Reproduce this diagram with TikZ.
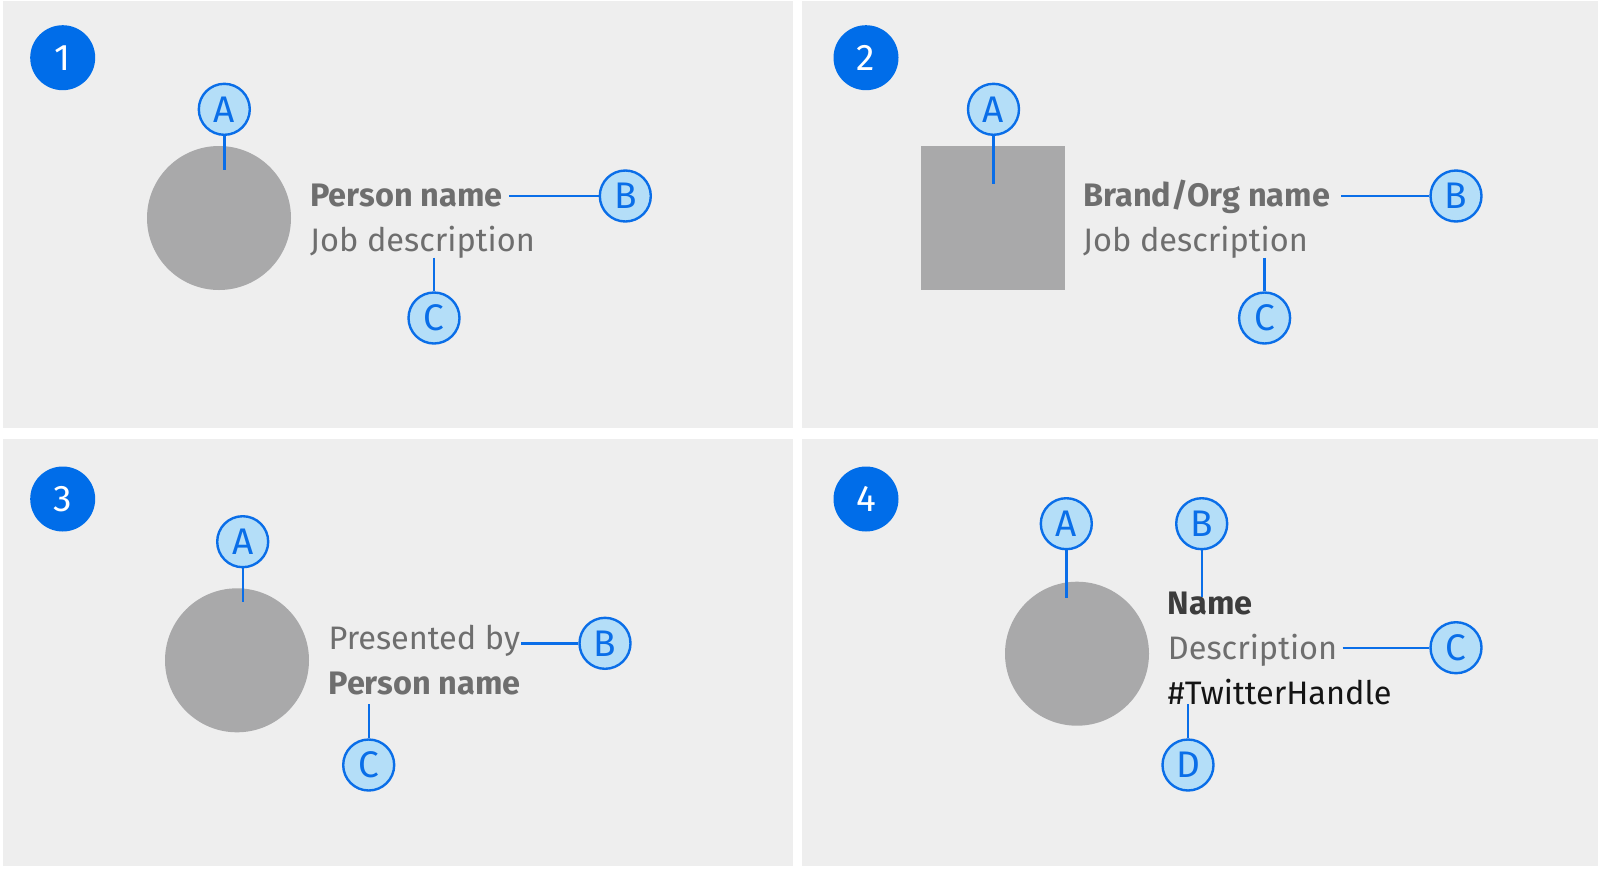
\documentclass[tikz,border=0pt]{standalone}
\usepackage{fontspec}
\setmainfont{Fira Sans}
\newfontfamily\lblfont{Fira Sans}
\definecolor{panelgrey}{HTML}{EEEEEE}
\definecolor{shapegrey}{HTML}{A9A9AA}
\definecolor{badgeblue}{HTML}{006DE9}
\definecolor{lineblue}{HTML}{0A6EE8}
\definecolor{lightblue}{HTML}{B4DEF8}
\definecolor{txtgrey}{HTML}{6E6E6E}
\definecolor{namedark}{HTML}{3C3C3C}
\definecolor{handleblack}{HTML}{141414}
\newcommand{\bigfont}{\fontsize{32.5}{39}\selectfont}
\newcommand{\letterfont}{\lblfont\fontsize{37}{42}\selectfont}
\begin{document}
\begin{tikzpicture}[x=1pt,y=-1pt,
  panel/.style={fill=panelgrey,draw=none},
  badge/.style={circle,fill=badgeblue,draw=none,minimum size=65pt,inner sep=0pt,text=white,font=\letterfont},
  lbl/.style={circle,draw=lineblue,line width=2.4pt,fill=lightblue,minimum size=51pt,inner sep=0pt,text=lineblue,font=\letterfont},
  conn/.style={draw=lineblue,line width=2.4pt},
  avatar/.style={circle,fill=shapegrey,draw=none,minimum size=144pt,inner sep=0pt},
  logo/.style={rectangle,fill=shapegrey,draw=none,minimum size=144pt,inner sep=0pt},
  txt/.style={anchor=base west,inner sep=0pt,text=txtgrey,font=\bigfont},
  txtb/.style={anchor=base west,inner sep=0pt,text=txtgrey,font=\bigfont\bfseries},
]
\useasboundingbox (0,0) rectangle (1598,868);
\fill[white] (0,0) rectangle (1598,868);
% panels
\fill[panel] (3,1) rectangle (793,428);
\fill[panel] (802,1) rectangle (1598,428);
\fill[panel] (3,439) rectangle (793,866);
\fill[panel] (802,439) rectangle (1598,866);

% ---------- panel 1 ----------
\node[badge] (b1) at (62.7,57.7) {1};
\node[avatar] (av1) at (219,218) {};
\node[txtb] (n1) at (310,206.7) {Person name};
\node[txt] (j1) at (310,251.7) {Job description};
\node[lbl] (la1) at (224.3,109.3) {A};
\node[lbl] (lb1) at (625.3,196) {B};
\node[lbl] (lc1) at (434,318) {C};
\coordinate (ea1) at (224.3,170);
\coordinate (eb1) at (509,196);
\coordinate (ec1) at (434,257.7);
\draw[conn] (la1.south) -- (ea1);
\draw[conn] (eb1) -- (lb1.west);
\draw[conn] (ec1) -- (lc1.north);

% ---------- panel 2 ----------
\node[badge] (b2) at (866,57.7) {2};
\node[logo] (av2) at (993,218) {};
\node[txtb] (n2) at (1083,206.7) {Brand/Org name};
\node[txt] (j2) at (1083,251.7) {Job description};
\node[lbl] (la2) at (993.5,109.3) {A};
\node[lbl] (lb2) at (1456,196) {B};
\node[lbl] (lc2) at (1264.6,318) {C};
\coordinate (ea2) at (993.5,183.5);
\coordinate (eb2) at (1341,196);
\coordinate (ec2) at (1264.6,257.7);
\draw[conn] (la2.south) -- (ea2);
\draw[conn] (eb2) -- (lb2.west);
\draw[conn] (ec2) -- (lc2.north);

% ---------- panel 3 ----------
\node[badge] (b3) at (62.7,499) {3};
\node[avatar] (av3) at (237,660.3) {};
\node[txt] (p3) at (328.3,649.3) {Presented by};
\node[txtb] (n3) at (328.3,694.3) {Person name};
\node[lbl] (la3) at (242.7,541.7) {A};
\node[lbl] (lb3) at (605,643.3) {B};
\node[lbl] (lc3) at (368.7,765) {C};
\coordinate (ea3) at (242.7,602.3);
\coordinate (eb3) at (521,643.3);
\coordinate (ec3) at (368.7,704.3);
\draw[conn] (la3.south) -- (ea3);
\draw[conn] (eb3) -- (lb3.west);
\draw[conn] (ec3) -- (lc3.north);

% ---------- panel 4 ----------
\node[badge] (b4) at (866,499) {4};
\node[avatar] (av4) at (1077,653.7) {};
\node[txtb,text=namedark] (n4) at (1167.7,614) {Name};
\node[txt] (d4) at (1167.7,659.3) {Description};
\node[txt,text=handleblack] (h4) at (1167.7,704) {\#TwitterHandle};
\node[lbl] (la4) at (1066.3,523.7) {A};
\node[lbl] (lb4) at (1201.7,523.7) {B};
\node[lbl] (lc4) at (1456,647.7) {C};
\node[lbl] (ld4) at (1188,765) {D};
\coordinate (ea4) at (1066.3,597.7);
\coordinate (eb4) at (1201.7,596.7);
\coordinate (ec4) at (1342.7,647.7);
\coordinate (ed4) at (1188,704.3);
\draw[conn] (la4.south) -- (ea4);
\draw[conn] (lb4.south) -- (eb4);
\draw[conn] (ec4) -- (lc4.west);
\draw[conn] (ed4) -- (ld4.north);
\end{tikzpicture}
\end{document}
